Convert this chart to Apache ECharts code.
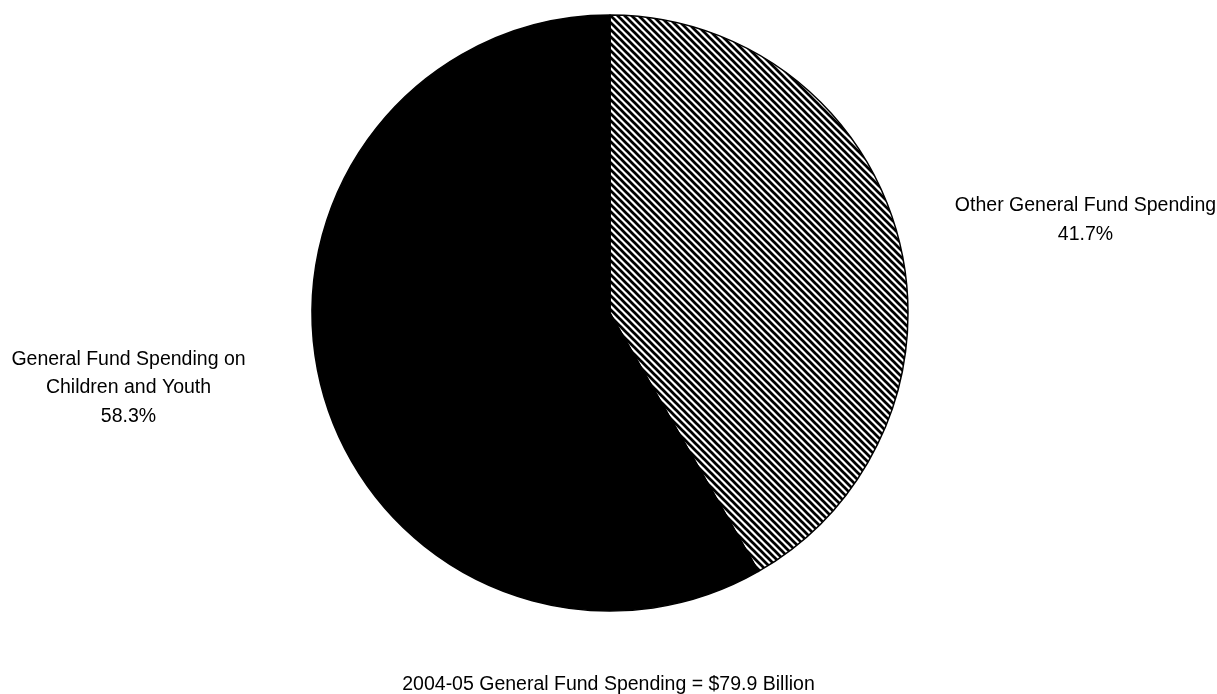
<!DOCTYPE html>
<html>
<head>
<meta charset="utf-8">
<script src="https://cdn.jsdelivr.net/npm/echarts@6/dist/echarts.min.js"></script>
<style>
  html, body { margin: 0; padding: 0; background: #fff; }
  #chart { width: 1217px; height: 694px; }
</style>
</head>
<body>
<div id="chart"></div>
<script>
// Data
const categories = ['Other General Fund Spending', 'General Fund Spending on\nChildren and Youth'];
const shares = [41.7, 58.3];
const percentLabels = ['41.7%', '58.3%'];
const footnote = '2004-05 General Fund Spending = $79.9 Billion';

const FONT = '"Liberation Sans Narrow", "Arial Narrow", "Liberation Sans", Arial, sans-serif';
const FS = 19.5;

// Diagonal hatch pattern
function makeHatch() {
  const s = 7;
  const c = document.createElement('canvas');
  c.width = s; c.height = s;
  const ctx = c.getContext('2d');
  ctx.fillStyle = '#fff';
  ctx.fillRect(0, 0, s, s);
  ctx.strokeStyle = '#000';
  ctx.lineWidth = 2.7;
  for (const o of [-s, 0, s]) {
    ctx.beginPath();
    ctx.moveTo(o - 1, -1);
    ctx.lineTo(o + s + 1, s + 1);
    ctx.stroke();
  }
  return c;
}
const hatch = makeHatch();
const fills = [{ image: hatch, repeat: 'repeat' }, '#000000'];

const labelPos = [[1085.5, 220], [128.5, 388]];

const chart = echarts.init(document.getElementById('chart'), null, { renderer: 'canvas' });
chart.setOption({
  backgroundColor: '#ffffff',
  animation: false,
  title: {
    text: footnote,
    left: 'center',
    top: 666,
    textStyle: { fontFamily: FONT, fontSize: FS, fontWeight: 'normal', color: '#000', lineHeight: 28 }
  },
  series: [{
    type: 'pie',
    center: [610, 313],
    radius: 298,
    startAngle: 90,
    clockwise: true,
    silent: true,
    itemStyle: { borderColor: '#000', borderWidth: 1.5 },
    label: {
      show: true,
      position: 'outside',
      fontFamily: FONT,
      fontSize: FS,
      lineHeight: 28.5,
      color: '#000',
      align: 'center',
      overflow: 'none',
      formatter: p => p.name + '\n' + percentLabels[p.dataIndex]
    },
    labelLine: { show: false },
    labelLayout: params => ({
      x: labelPos[params.dataIndex][0],
      y: labelPos[params.dataIndex][1],
      align: 'center',
      verticalAlign: 'middle'
    }),
    data: categories.map((name, i) => ({
      name: name,
      value: shares[i],
      itemStyle: { color: fills[i] }
    }))
  }]
});
</script>
</body>
</html>
